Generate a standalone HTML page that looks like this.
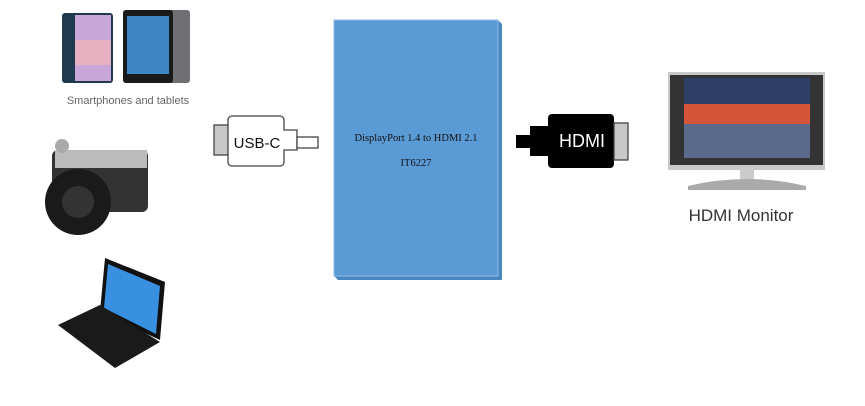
<!DOCTYPE html>
<html><head><style>body{margin:0;background:#fff;width:865px;height:401px;overflow:hidden}</style></head>
<body>
<svg width="865" height="401" xmlns="http://www.w3.org/2000/svg" font-family="Liberation Sans, sans-serif">
<!-- phone -->
<rect x="62" y="13" width="51" height="70" rx="3" fill="#1f3a4e"/>
<rect x="75" y="15" width="36" height="66" fill="#c9a6d8"/>
<rect x="75" y="40" width="36" height="25" fill="#e7b0c0"/>
<!-- tablet -->
<rect x="123" y="10" width="67" height="73" rx="3" fill="#707074"/>
<rect x="123" y="10" width="50" height="73" rx="3" fill="#1a1a1a"/>
<rect x="127" y="16" width="42" height="58" fill="#3d87c7"/>
<text x="128" y="104" font-size="11" fill="#666" text-anchor="middle">Smartphones and tablets</text>
<!-- camera -->
<rect x="52" y="150" width="96" height="62" rx="6" fill="#333"/>
<rect x="55" y="150" width="92" height="18" fill="#bbb"/>
<circle cx="78" cy="202" r="33" fill="#1a1a1a"/>
<circle cx="78" cy="202" r="16" fill="#333"/>
<circle cx="62" cy="146" r="7" fill="#aaa"/>
<!-- laptop -->
<polygon points="105,258 165,282 160,340 100,312" fill="#111"/>
<polygon points="108,264 160,286 156,334 104,308" fill="#3a90e0"/>
<polygon points="58,325 100,305 160,342 115,368" fill="#1a1a1a"/>
<!-- USB-C -->
<rect x="214" y="125" width="16" height="30" fill="#c8c8c8" stroke="#444" stroke-width="1.3"/>
<path d="M232,116 H280 a4,4 0 0 1 4,4 V130 H297 V150 H284 V162 a4,4 0 0 1 -4,4 H232 a4,4 0 0 1 -4,-4 V120 a4,4 0 0 1 4,-4 Z" fill="#fff" stroke="#444" stroke-width="1.3"/>
<rect x="297" y="137" width="21" height="11" fill="#fff" stroke="#444" stroke-width="1.3"/>
<text x="257" y="148" font-size="15" text-anchor="middle" fill="#111">USB-C</text>
<!-- chip box -->
<polygon points="334,20 498,20 502,24 502,280 338,280 334,276" fill="#4a86c0"/>
<rect x="334" y="20" width="164" height="256" fill="#5b9bd5" stroke="#8fbbe6" stroke-width="1"/>
<text x="416" y="141" font-size="10.5" font-family="Liberation Serif, serif" text-anchor="middle" fill="#111">DisplayPort 1.4 to HDMI 2.1</text>
<text x="416" y="166" font-size="10.5" font-family="Liberation Serif, serif" text-anchor="middle" fill="#111">IT6227</text>
<!-- HDMI -->
<rect x="516" y="135" width="32" height="13" fill="#000"/>
<rect x="530" y="126" width="20" height="30" fill="#000"/>
<rect x="548" y="114" width="66" height="54" rx="4" fill="#000"/>
<rect x="614" y="123" width="14" height="37" fill="#c8c8c8" stroke="#444" stroke-width="1.3"/>
<text x="582" y="147" font-size="18" text-anchor="middle" fill="#fff">HDMI</text>
<!-- monitor -->
<rect x="668" y="72" width="157" height="98" fill="#c8c8c8"/>
<rect x="670" y="75" width="153" height="90" fill="#333"/>
<rect x="684" y="78" width="126" height="80" fill="#d5553a"/>
<rect x="684" y="78" width="126" height="26" fill="#2d3f66"/>
<rect x="684" y="124" width="126" height="34" fill="#5a6a8a"/>
<rect x="740" y="168" width="14" height="14" fill="#ccc"/>
<path d="M688,186 Q747,172 806,186 L806,190 L688,190 Z" fill="#aaa"/>
<text x="741" y="221" font-size="17" text-anchor="middle" fill="#333">HDMI Monitor</text>
</svg>
</body></html>
